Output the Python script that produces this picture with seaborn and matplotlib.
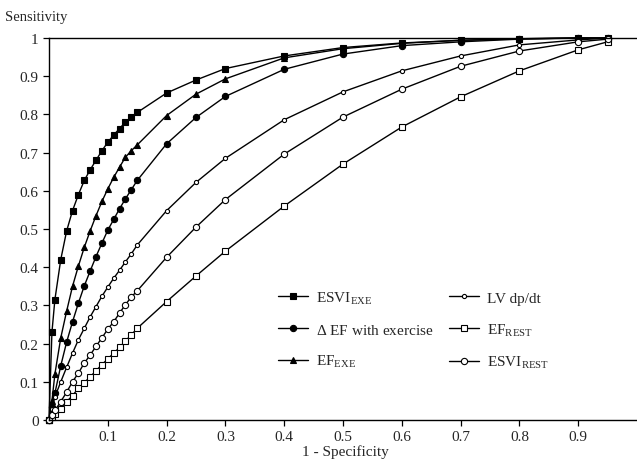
import seaborn as sns
import matplotlib
matplotlib.use('Agg')
import matplotlib.pyplot as plt
import pandas as pd

# false positive rate (1 - specificity) where each curve was sampled
fpr = [0, 0.005, 0.01, 0.02, 0.03, 0.04, 0.05, 0.06, 0.07, 0.08, 0.09, 0.10,
       0.11, 0.12, 0.13, 0.14, 0.15, 0.20, 0.25, 0.30, 0.40, 0.50, 0.60, 0.70,
       0.80, 0.90, 0.95]

esvi_exe = [0, 0.23, 0.315, 0.42, 0.495, 0.548, 0.59, 0.627, 0.655, 0.68, 0.705,
            0.727, 0.746, 0.763, 0.78, 0.793, 0.805, 0.856, 0.89, 0.92, 0.953,
            0.975, 0.987, 0.994, 0.998, 1.0, 1.0]
delta_ef = [0, 0.035, 0.07, 0.142, 0.204, 0.257, 0.306, 0.351, 0.39, 0.428, 0.463,
            0.497, 0.525, 0.553, 0.579, 0.603, 0.627, 0.723, 0.792, 0.847, 0.918,
            0.958, 0.98, 0.99, 0.997, 1.0, 1.0]
ef_exe = [0, 0.05, 0.12, 0.215, 0.285, 0.35, 0.403, 0.452, 0.495, 0.535, 0.572,
          0.605, 0.635, 0.662, 0.688, 0.705, 0.72, 0.797, 0.853, 0.893, 0.948,
          0.972, 0.986, 0.994, 0.998, 1.0, 1.0]
lv_dpdt = [0, 0.03, 0.06, 0.1, 0.138, 0.175, 0.21, 0.24, 0.27, 0.297, 0.324,
           0.348, 0.371, 0.392, 0.414, 0.435, 0.458, 0.548, 0.622, 0.685, 0.786,
           0.859, 0.914, 0.953, 0.982, 0.995, 1.0]
ef_rest = [0, 0.008, 0.016, 0.03, 0.048, 0.064, 0.083, 0.098, 0.113, 0.129, 0.145,
           0.16, 0.175, 0.19, 0.207, 0.223, 0.24, 0.31, 0.377, 0.442, 0.56,
           0.67, 0.767, 0.846, 0.914, 0.969, 0.99]
esvi_rest = [0, 0.012, 0.025, 0.048, 0.073, 0.1, 0.123, 0.149, 0.17, 0.193, 0.215,
             0.238, 0.257, 0.28, 0.302, 0.322, 0.338, 0.426, 0.505, 0.577, 0.696,
             0.793, 0.866, 0.926, 0.966, 0.99, 0.997]

labels = [r'ESVI$_{\rm EXE}$', r'$\Delta$ EF with exercise', r'EF$_{\rm EXE}$',
          'LV dp/dt', r'EF$_{\rm REST}$', r'ESVI$_{\rm REST}$']
series = [esvi_exe, delta_ef, ef_exe, lv_dpdt, ef_rest, esvi_rest]

# marker, size, filled?
styles = [('s', 4.5, True), ('o', 4.5, True), ('^', 4.3, True),
          ('o', 3.0, False), ('s', 4.3, False), ('o', 4.5, False)]

sns.set_theme(style='ticks')
plt.rcParams['font.family'] = ['Liberation Serif', 'DejaVu Serif']
plt.rcParams['mathtext.fontset'] = 'custom'
plt.rcParams['mathtext.rm'] = 'Liberation Serif'
plt.rcParams['mathtext.it'] = 'Liberation Serif:italic'

fig = plt.figure(figsize=(6.37, 4.64), dpi=100)
ax = fig.add_axes([49 / 637, 1 - 421 / 464, 588 / 637, 382 / 464])

for lab, vals, (mk, ms, filled) in zip(labels, series, styles):
    df = pd.DataFrame({'fpr': fpr, 'sens': vals})
    sns.lineplot(x='fpr', y='sens', data=df, ax=ax, color='black', lw=1,
                 marker=mk, markersize=ms, markeredgecolor='black',
                 markeredgewidth=0.8,
                 markerfacecolor='black' if filled else 'white',
                 label=lab, sort=False, clip_on=False)

ax.set_xlim(0, 1.0)
ax.set_ylim(0, 1)
ax.set_xticks([0.1, 0.2, 0.3, 0.4, 0.5, 0.6, 0.7, 0.8, 0.9])
ax.set_xticklabels(['0.1', '0.2', '0.3', '0.4', '0.5', '0.6', '0.7', '0.8', '0.9'])
ax.set_yticks([0, 0.1, 0.2, 0.3, 0.4, 0.5, 0.6, 0.7, 0.8, 0.9, 1])
ax.set_yticklabels(['0', '0.1', '0.2', '0.3', '0.4', '0.5', '0.6', '0.7', '0.8', '0.9', '1'])
ax.tick_params(labelsize=11, length=4, width=0.9, color='black', direction='out')
ax.spines['right'].set_visible(False)
for s in ['left', 'bottom', 'top']:
    ax.spines[s].set_color('black')
    ax.spines[s].set_linewidth(1)
ax.set_xlabel('')
ax.set_ylabel('')

fig.text(5 / 637, 1 - 17 / 464, 'Sensitivity', fontsize=10.5, va='center', ha='left')
fig.text(345 / 637, 1 - 452 / 464, '1 - Specificity', fontsize=11, va='center', ha='center')

handles, labs = ax.get_legend_handles_labels()
ax.legend(handles, labs, ncol=2, frameon=False, fontsize=11,
          loc='upper left', bbox_to_anchor=(270 / 637, 1 - 283 / 464),
          bbox_transform=fig.transFigure, borderpad=0, handlelength=2.0,
          handletextpad=0.5, columnspacing=1.0, labelspacing=1.1)

plt.savefig('out.png', dpi=100)
